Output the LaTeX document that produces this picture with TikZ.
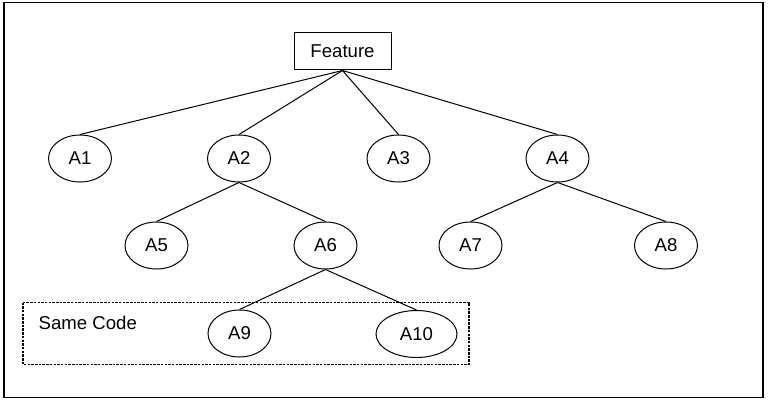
\documentclass[tikz,border=0pt]{standalone}
\usepackage{fontspec}
\setmainfont{Liberation Sans}
\usetikzlibrary{shapes.geometric}
\begin{document}
\begin{tikzpicture}[x=1pt,y=-1pt,
  every node/.style={font=\fontsize{18.6}{20}\selectfont},
  leaf/.style={draw,ellipse,line width=1pt,minimum width=63pt,minimum height=47pt,inner sep=0pt},
  rootbox/.style={draw,rectangle,line width=1pt,minimum width=97pt,minimum height=37pt,inner sep=0pt},
  edge/.style={line width=1pt}]
\useasboundingbox (0,0) rectangle (768,401);
\draw[line width=1.2pt] (4,2.5) rectangle (763,397.5);
\node[rootbox] (F) at (342.5,51.5) {Feature};
\node[leaf] (A1) at (80,158.5) {A1};
\node[leaf] (A2) at (239,158.5) {A2};
\node[leaf] (A3) at (398.5,158.5) {A3};
\node[leaf] (A4) at (557.5,158.5) {A4};
\node[leaf] (A5) at (156.5,245.5) {A5};
\node[leaf] (A6) at (325.5,245.5) {A6};
\node[leaf] (A7) at (470.5,245.5) {A7};
\node[leaf] (A8) at (666,245.5) {A8};
\node[leaf] (A9) at (239.5,333.5) {A9};
\node[leaf,minimum width=81pt] (A10) at (416.5,334) {A10};
\draw[line width=1.2pt,dash pattern=on 2.5pt off 1.2pt] (23,302.5) rectangle (469,364.5);
\node[anchor=west,inner sep=0pt] (sc) at (38.5,323) {Same Code};
\foreach \c in {A1,A2,A3,A4} \draw[edge] (F.south) -- (\c.north);
\draw[edge] (A2.south) -- (A5.north);
\draw[edge] (A2.south) -- (A6.north);
\draw[edge] (A4.south) -- (A7.north);
\draw[edge] (A4.south) -- (A8.north);
\draw[edge] (A6.south) -- (A9.north);
\draw[edge] (A6.south) -- (A10.north);
\end{tikzpicture}
\end{document}
